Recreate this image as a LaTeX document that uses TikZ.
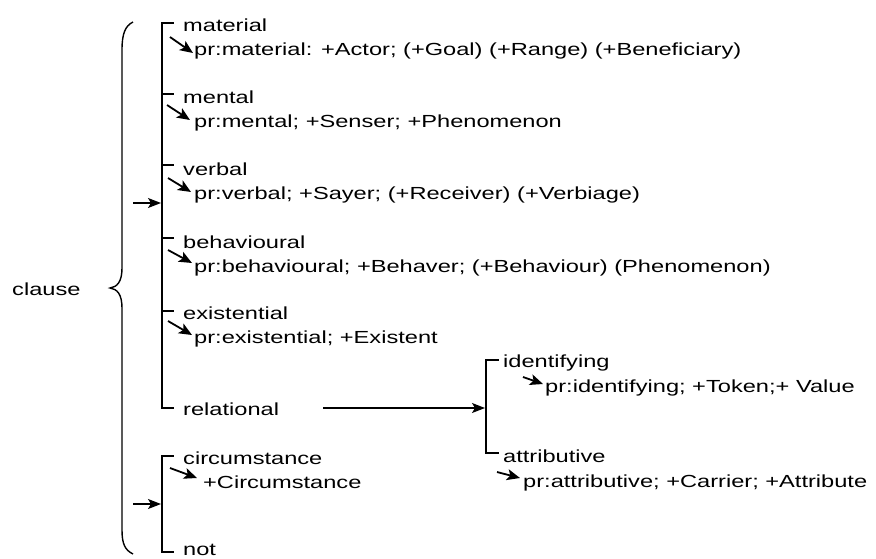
\documentclass[tikz,border=0pt]{standalone}
\usepackage{fontspec}
\setmainfont{Liberation Sans}[FakeStretch=1.35]
\usetikzlibrary{arrows.meta}
\begin{document}
\begin{tikzpicture}[x=1pt,y=-1pt,
  lbl/.style={anchor=base west,inner sep=0pt,font=\fontsize{17.5}{20}\selectfont,text=black},
  brk/.style={line width=1.6pt,line cap=rect},
  sarrow/.style={line width=1.8pt,-{Stealth[length=13pt,width=11pt,inset=3pt]}},
  barrow/.style={line width=1.3pt,-{Stealth[length=13pt,width=10pt,inset=3pt]}}]
\useasboundingbox (0,0) rectangle (876,558);
% labels
\node[lbl] (clause) at (12,295) {clause};
\node[lbl] (material) at (183,31) {material};
\node[lbl] (prmat) at (194,55) {pr:material: +Actor; (+Goal) (+Range) (+Beneficiary)};
\node[lbl] (mental) at (183,103) {mental};
\node[lbl] (prmen) at (194,127) {pr:mental; +Senser; +Phenomenon};
\node[lbl] (verbal) at (183,175) {verbal};
\node[lbl] (prverb) at (194,199) {pr:verbal; +Sayer; (+Receiver) (+Verbiage)};
\node[lbl] (behav) at (183,248) {behavioural};
\node[lbl] (prbeh) at (194,272) {pr:behavioural; +Behaver; (+Behaviour) (Phenomenon)};
\node[lbl] (exist) at (183,319) {existential};
\node[lbl] (prex) at (194,343) {pr:existential; +Existent};
\node[lbl] (relat) at (183,415) {relational};
\node[lbl] (circ) at (183,464) {circumstance};
\node[lbl] (prcirc) at (203,488) {+Circumstance};
\node[lbl] (notn) at (183,555) {not};
\node[lbl] (ident) at (503,367) {identifying};
\node[lbl] (prid) at (545,392) {pr:identifying; +Token;+ Value};
\node[lbl] (attr) at (503,462) {attributive};
\node[lbl] (prattr) at (523,487) {pr:attributive; +Carrier; +Attribute};
% brace
\draw[line width=1.4pt] (133,22) .. controls (125,26) and (122,34) .. (122,50) -- (122,268)
  .. controls (122,282) and (117,287) .. (110,288) .. controls (117,289) and (122,294) .. (122,308)
  -- (122,530) .. controls (122,544) and (125,550) .. (133,554);
% upper bracket
\coordinate (ub) at (162,23);
\coordinate (ue) at (162,408);
\draw[brk] (173,23) -- (ub) -- (ue) -- (173,408);
\foreach \y in {94,165,238,311} \draw[brk] (162,\y) -- (173,\y);
\coordinate (ua) at (133,203);
\draw[barrow] (ua) -- (161,203);
% lower bracket
\draw[brk] (173,456) -- (162,456) -- (162,552) -- (173,552);
\coordinate (la) at (133,504);
\draw[barrow] (la) -- (161,504);
% relational bracket
\draw[brk] (498,360) -- (486,360) -- (486,453) -- (498,453);
\coordinate (ra) at (323,408);
\draw[barrow] (ra) -- (485,408);
% small arrows
\draw[sarrow] (170,37) -- (193,53);
\draw[sarrow] (167,105) -- (190,120);
\draw[sarrow] (168,178) -- (191,192);
\draw[sarrow] (168,250) -- (192,263);
\draw[sarrow] (168,321) -- (192,335);
\draw[sarrow] (170,468) -- (197,478);
\draw[sarrow] (523,377) -- (543,384);
\draw[sarrow] (497,472) -- (520,478);
\end{tikzpicture}
\end{document}
